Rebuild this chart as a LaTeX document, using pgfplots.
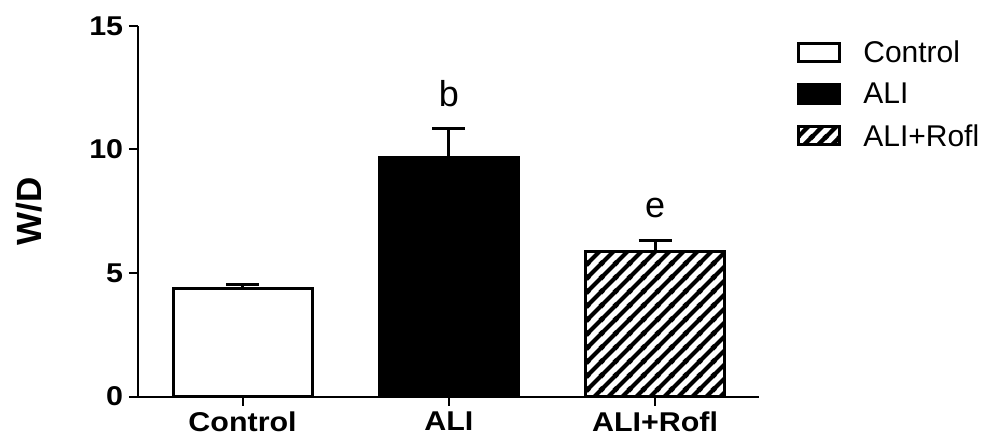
\documentclass[border=0pt]{standalone}
\usepackage{fontspec}
\setmainfont{Liberation Sans}
\newfontfamily\tickfont{Liberation Sans}[FakeStretch=1.12]
\usepackage{pgfplots}
\pgfplotsset{compat=1.18}
\usetikzlibrary{patterns}

\pgfdeclarepatternformonly{thickne}{\pgfqpoint{0pt}{0pt}}{\pgfqpoint{8.4pt}{8.4pt}}{\pgfqpoint{8.4pt}{8.4pt}}{%
  \pgfsetlinewidth{2.6pt}%
  \pgfpathmoveto{\pgfqpoint{-1pt}{-1pt}}\pgfpathlineto{\pgfqpoint{9.4pt}{9.4pt}}%
  \pgfpathmoveto{\pgfqpoint{-1pt}{7.4pt}}\pgfpathlineto{\pgfqpoint{1pt}{9.4pt}}%
  \pgfpathmoveto{\pgfqpoint{7.4pt}{-1pt}}\pgfpathlineto{\pgfqpoint{9.4pt}{1pt}}%
  \pgfusepath{stroke}}

\pgfplotsset{boxleg/.style={legend image code/.code={\draw[##1, line width=1.8pt] (0.9pt,-5.1pt) rectangle (25.5pt,6.1pt);}}}

\begin{document}
\begin{tikzpicture}
\path[use as bounding box] (-82.8pt,-29.1pt) rectangle (507.6pt,237.9pt);
\begin{axis}[
  at={(0pt,0pt)}, anchor=south west,
  scale only axis, width=372.6pt, height=222.3pt,
  xmin=-0.507, xmax=2.504, ymin=0, ymax=15,
  axis x line=bottom, axis y line=left,
  axis line style={-, line width=1.2pt},
  xtick={0,1,2}, xticklabels={Control,ALI,ALI+Rofl},
  ytick={0,5,10,15},
  tick align=outside, major tick length=5.4pt,
  tick style={line width=1.2pt, black},
  ticklabel style={font=\tickfont\bfseries\fontsize{16.3}{19}\selectfont},
  /pgf/number format/assume math mode=true,
  ylabel={W/D},
  ylabel style={font=\bfseries\fontsize{21}{24}\selectfont, at={(axis description cs:-0.1755,0.5)}, anchor=center},
  clip=false,
  legend style={draw=none, fill=none, at={(rel axis cs:1.0612,0.960)}, anchor=north west,
    inner sep=0pt, row sep=10.7pt, column sep=13.2pt, font=\fontsize{18}{21}\selectfont,
    nodes={inner sep=0pt}},
  legend cell align=left,
]
\addplot[ybar, bar width=83.4pt, bar shift=0pt, fill=white, draw=black, line width=1.8pt,
  error bars/.cd, y dir=plus, y explicit, error bar style={line width=1.8pt, black},
  error mark options={rotate=90, mark size=9.9pt, line width=1.8pt, black}]
  coordinates {(0,4.39) +- (0,0.16)};
\addlegendentry{Control}
\addplot[ybar, bar width=83.4pt, bar shift=0pt, fill=black, draw=black, line width=1.8pt,
  error bars/.cd, y dir=plus, y explicit, error bar style={line width=1.8pt, black},
  error mark options={rotate=90, mark size=9.9pt, line width=1.8pt, black}]
  coordinates {(1,9.66) +- (0,1.17)};
\addlegendentry{ALI}
\addplot[ybar, bar width=83.4pt, bar shift=0pt, pattern=thickne, draw=black, line width=1.8pt,
  error bars/.cd, y dir=plus, y explicit, error bar style={line width=1.8pt, black},
  error mark options={rotate=90, mark size=9.9pt, line width=1.8pt, black}]
  coordinates {(2,5.89) +- (0,0.41)};
\addlegendentry{ALI+Rofl}
\pgfplotsset{boxleg}
\node[anchor=base, font=\fontsize{21.6}{24}\selectfont] at (axis cs:1,11.76) {b};
\node[anchor=base, font=\fontsize{21.6}{24}\selectfont] at (axis cs:2,7.23) {e};
\end{axis}
\end{tikzpicture}
\end{document}
